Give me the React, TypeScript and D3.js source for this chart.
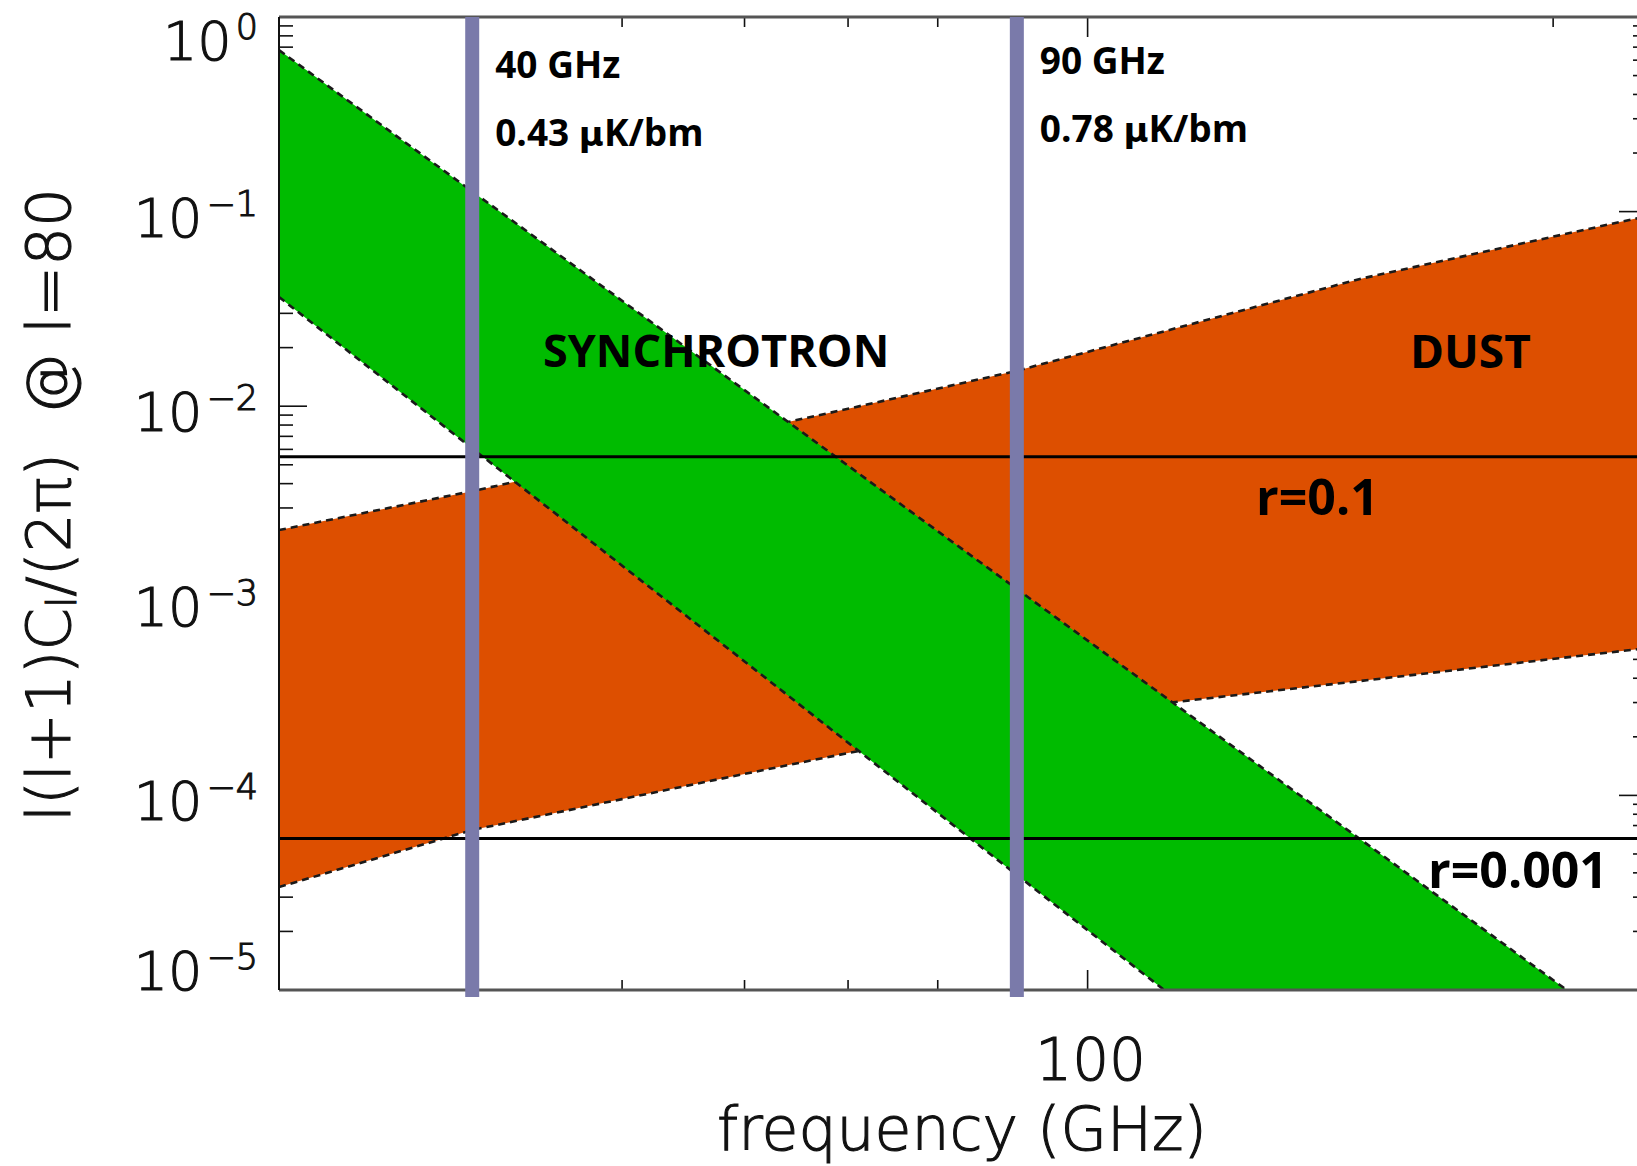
import React, { useEffect, useRef } from 'react';
import * as d3 from 'd3';

// synchrotron band (upper / lower edge)
const syncFreq = [30, 40, 60, 90, 150, 230];
const syncHigh = [0.676, 0.127, 0.0121, 0.00115, 5.97e-5, 5.0e-6];
const syncLow = [0.0364, 0.00607, 0.000488, 3.9e-5, 1.64e-6, 1.15e-7];

// dust band
const dustFreq = [30, 40, 50, 60, 70, 90, 150, 230];
const dustHigh = [0.00231, 0.00366, 0.00538, 0.00741, 0.0097, 0.0152, 0.0451, 0.0948];
const dustLow = [3.38e-5, 6.64e-5, 9.57e-5, 1.29e-4, 1.65e-4, 2.44e-4, 3.87e-4, 5.71e-4];

// tensor-to-scalar reference levels
const rValues = [0.0055, 0.00006];
const rLabels = ['r=0.1', 'r=0.001'];

// observing bands
const bandFreqs = [40, 90];
const bandNames = ['40 GHz', '90 GHz'];
const bandNoise = ['0.43', '0.78'];

const xMajor = [100];
const xMinor = [40, 50, 60, 70, 80, 90, 200];
const yExponents = [0, -1, -2, -3, -4, -5];

const App = () => {
  const ref = useRef<SVGSVGElement>(null);

  useEffect(() => {
    const svg = d3.select(ref.current);
    svg.selectAll('*').remove();

    const left = 279, right = 1647, top = 17, bottom = 990;
    const x = d3.scaleLog().domain([30, 230]).range([left, right]);
    const y = d3.scaleLog().domain([1e-5, 1]).range([bottom, top]);

    const axisFont = '"DejaVu Sans", sans-serif';
    const axisWeight = 200;
    const labelFont = '"Open Sans", "Lato", sans-serif';

    // thin axis font, thickened a little with a stroke
    const axisText = (sel: any) => sel
      .attr('font-family', axisFont).attr('font-weight', axisWeight)
      .attr('fill', '#111').attr('stroke', '#111').attr('stroke-width', 1.1);

    svg.append('rect').attr('width', 1637).attr('height', 1166).attr('fill', '#ffffff');

    svg.append('defs').append('clipPath').attr('id', 'plotclip')
      .append('rect')
      .attr('x', left).attr('y', top)
      .attr('width', right - left).attr('height', bottom - top);

    // ticks first, the bands cover them like in the original
    const ticks = svg.append('g').attr('stroke', '#111').attr('stroke-width', 1.6);
    const yMajor = yExponents.map(e => Math.pow(10, e));
    const yMinor: number[] = [];
    yExponents.slice(1).forEach(e => {
      for (let k = 2; k <= 9; k++) yMinor.push(k * Math.pow(10, e));
    });
    yMajor.forEach(v => {
      ticks.append('line').attr('x1', left).attr('x2', left + 28).attr('y1', y(v)).attr('y2', y(v));
      ticks.append('line').attr('x1', right).attr('x2', right - 28).attr('y1', y(v)).attr('y2', y(v));
    });
    yMinor.forEach(v => {
      ticks.append('line').attr('x1', left).attr('x2', left + 14).attr('y1', y(v)).attr('y2', y(v));
      ticks.append('line').attr('x1', right).attr('x2', right - 14).attr('y1', y(v)).attr('y2', y(v));
    });
    xMajor.forEach(v => {
      ticks.append('line').attr('x1', x(v)).attr('x2', x(v)).attr('y1', bottom).attr('y2', bottom - 20);
      ticks.append('line').attr('x1', x(v)).attr('x2', x(v)).attr('y1', top).attr('y2', top + 20);
    });
    xMinor.forEach(v => {
      ticks.append('line').attr('x1', x(v)).attr('x2', x(v)).attr('y1', bottom).attr('y2', bottom - 10);
      ticks.append('line').attr('x1', x(v)).attr('x2', x(v)).attr('y1', top).attr('y2', top + 10);
    });

    const plot = svg.append('g').attr('clip-path', 'url(#plotclip)');

    const drawBand = (freq: number[], lo: number[], hi: number[], color: string) => {
      const idx = d3.range(freq.length);
      const area = d3.area<number>()
        .x(i => x(freq[i]))
        .y0(i => y(lo[i]))
        .y1(i => y(hi[i]));
      plot.append('path').datum(idx).attr('fill', color).attr('d', area);
      [lo, hi].forEach(edge => {
        const line = d3.line<number>().x(i => x(freq[i])).y(i => y(edge[i]));
        plot.append('path').datum(idx)
          .attr('fill', 'none')
          .attr('stroke', '#1a1a1a')
          .attr('stroke-width', 2.6)
          .attr('stroke-dasharray', '7,5')
          .attr('d', line);
      });
    };

    drawBand(dustFreq, dustLow, dustHigh, '#dd4f00');
    drawBand(syncFreq, syncLow, syncHigh, '#00bb00');

    // frame
    svg.append('line').attr('x1', left).attr('x2', right).attr('y1', top).attr('y2', top)
      .attr('stroke', '#555').attr('stroke-width', 3);
    svg.append('line').attr('x1', left).attr('x2', right).attr('y1', bottom).attr('y2', bottom)
      .attr('stroke', '#555').attr('stroke-width', 3);
    svg.append('line').attr('x1', left).attr('x2', left).attr('y1', top).attr('y2', bottom)
      .attr('stroke', '#111').attr('stroke-width', 2);
    svg.append('line').attr('x1', right).attr('x2', right).attr('y1', top).attr('y2', bottom)
      .attr('stroke', '#111').attr('stroke-width', 2);

    // r levels
    rValues.forEach(v => {
      plot.append('line')
        .attr('x1', left).attr('x2', right)
        .attr('y1', y(v)).attr('y2', y(v))
        .attr('stroke', '#000').attr('stroke-width', 3);
    });

    // observing band markers
    bandFreqs.forEach(f => {
      svg.append('line')
        .attr('x1', x(f)).attr('x2', x(f))
        .attr('y1', top).attr('y2', bottom + 7)
        .attr('stroke', '#7a7aaa').attr('stroke-width', 14);
    });

    // band texts
    bandFreqs.forEach((f, i) => {
      const tx = x(f) + 23;
      const dy = i === 0 ? 0 : -4;
      svg.append('text')
        .attr('x', tx).attr('y', 78 + dy)
        .attr('font-family', labelFont).attr('font-weight', 700).attr('font-size', 37)
        .text(bandNames[i]);
      const t = svg.append('text')
        .attr('x', tx).attr('y', 146 + dy)
        .attr('font-family', labelFont).attr('font-weight', 700).attr('font-size', 37)
        .style('white-space', 'pre');
      t.append('tspan').text(bandNoise[i] + ' ');
      t.append('tspan').attr('font-family', '"DejaVu Sans", sans-serif').attr('font-size', 34).text('μ');
      t.append('tspan').text('K/bm');
    });

    svg.append('text')
      .attr('x', 543).attr('y', 367)
      .attr('font-family', labelFont).attr('font-weight', 700).attr('font-size', 45)
      .text('SYNCHROTRON');
    svg.append('text')
      .attr('x', 1410).attr('y', 368)
      .attr('font-family', labelFont).attr('font-weight', 700).attr('font-size', 46)
      .text('DUST');

    const rLabelX = [1256, 1428];
    const rLabelDy = [58, 49];
    rValues.forEach((v, i) => {
      svg.append('text')
        .attr('x', rLabelX[i]).attr('y', y(v) + rLabelDy[i])
        .attr('font-family', labelFont).attr('font-weight', 700).attr('font-size', 50)
        .text(rLabels[i]);
    });

    // y tick labels 10^n
    yExponents.forEach(e => {
      const base = Math.min(Math.max(y(Math.pow(10, e)) + 25, top + 43), bottom);
      const t = svg.append('text')
        .attr('x', 258).attr('y', base)
        .attr('text-anchor', 'end')
        .attr('font-size', 54)
        .call(axisText);
      t.append('tspan').text('10');
      t.append('tspan').attr('dx', 4).attr('dy', -21).attr('font-size', 35)
        .text(e === 0 ? '0' : '\u2212' + Math.abs(e));
    });

    // x tick label
    xMajor.forEach(v => {
      svg.append('text')
        .attr('x', x(v) + 3).attr('y', 1080)
        .attr('text-anchor', 'middle')
        .attr('font-size', 58)
        .call(axisText)
        .text(String(v));
    });

    svg.append('text')
      .attr('x', 962).attr('y', 1150)
      .attr('text-anchor', 'middle')
      .attr('font-size', 60)
      .call(axisText)
      .style('white-space', 'pre')
      .text('frequency (GHz)');

    const yt = svg.append('text')
      .attr('transform', 'translate(70,505) rotate(-90)')
      .attr('text-anchor', 'middle')
      .attr('font-size', 61)
      .call(axisText)
      .style('white-space', 'pre');
    yt.append('tspan').text('l(l+1)C');
    yt.append('tspan').attr('font-size', 40).attr('dy', 6).text('l');
    yt.append('tspan').attr('dy', -6).text('/(2\u03c0)  @ l=80');
  }, []);

  return (
    <svg
      ref={ref}
      width={1637}
      height={1166}
      style={{ position: 'absolute', left: 0, top: 0, display: 'block' }}
    />
  );
};

export default App;
